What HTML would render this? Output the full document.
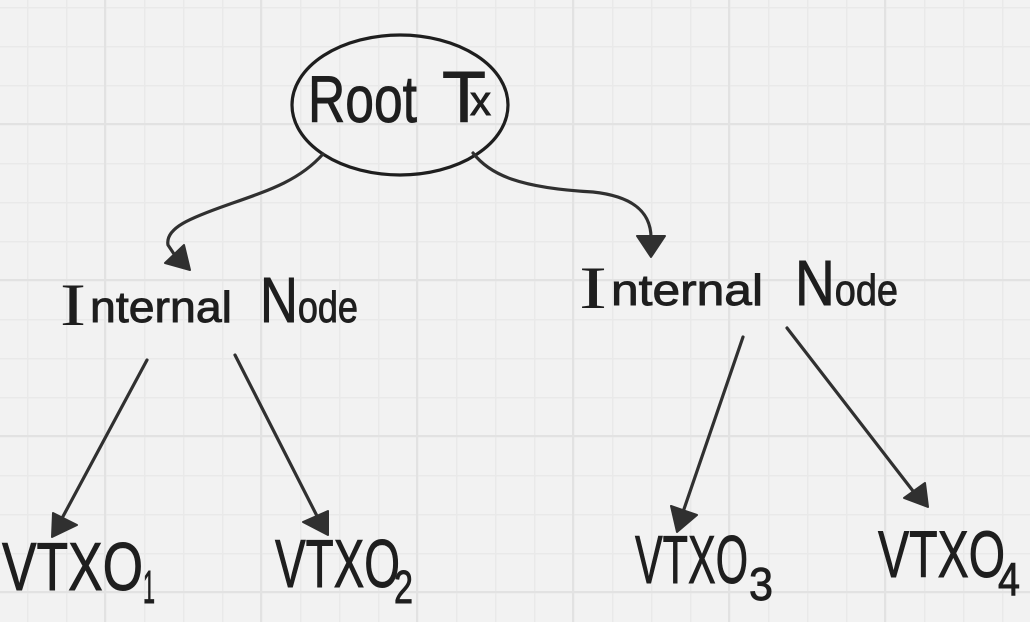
<!DOCTYPE html>
<html>
<head>
<meta charset="utf-8">
<style>
html,body{margin:0;padding:0;background:#f2f2f2;}
body{width:1030px;height:622px;overflow:hidden;}
svg{display:block;}
text{font-family:"Liberation Sans", sans-serif;fill:#1e1e1e;stroke:#1e1e1e;stroke-width:0.9;}
.serif{font-family:"Liberation Serif", serif;stroke-width:0;}
</style>
</head>
<body>
<svg width="1030" height="622" viewBox="0 0 1030 622" xmlns="http://www.w3.org/2000/svg">
<defs>
<pattern id="minor" x="27" y="7" width="39" height="39" patternUnits="userSpaceOnUse">
<rect x="0" y="0" width="1.5" height="39" fill="#e9e9e9"/>
<rect x="0" y="0" width="39" height="1.5" fill="#e9e9e9"/>
</pattern>
<pattern id="major" x="104" y="123" width="156" height="156" patternUnits="userSpaceOnUse">
<rect x="0" y="0" width="2" height="156" fill="#e2e2e2"/>
<rect x="0" y="0" width="156" height="2" fill="#e2e2e2"/>
</pattern>
</defs>
<rect width="1030" height="622" fill="#f2f2f2"/>
<rect width="1030" height="622" fill="url(#minor)"/>
<rect width="1030" height="622" fill="url(#major)"/>

<!-- Root ellipse -->
<ellipse cx="400" cy="105" rx="108" ry="70" fill="none" stroke="#1e1e1e" stroke-width="3.2"/>
<text x="308" y="122" font-size="66" textLength="109" lengthAdjust="spacingAndGlyphs">Root</text>
<text x="442" y="122" font-size="72" textLength="44" lengthAdjust="spacingAndGlyphs">T</text>
<text x="470" y="115" font-size="42" textLength="21" lengthAdjust="spacingAndGlyphs">x</text>

<!-- Connectors -->
<g fill="none" stroke="#303030" stroke-width="3.2" stroke-linecap="round" stroke-linejoin="round">
<path d="M323,154 C300,180 270,190 230,204 C190,218 165,228 168,245 L174,254"/>
<path d="M473,153 C490,175 520,188 593,192 C630,196 652,210 651,240"/>
<path d="M147,360 L60,522"/>
<path d="M235,355 L318,518"/>
<path d="M743,337 L683,512"/>
<path d="M787,328 L913,491"/>
</g>
<g fill="#303030" stroke="#303030" stroke-width="2" stroke-linejoin="round">
<polygon points="190,270 165,263 184,245"/>
<polygon points="651,257 637,236 665,236"/>
<polygon points="52,537 53,513 77,525"/>
<polygon points="328,535 303,522 328,511"/>
<polygon points="677,532 671,506 697,515"/>
<polygon points="928,507 904,498 925,483"/>
</g>

<!-- Internal nodes -->
<text x="60" y="325" font-size="60" class="serif" textLength="26" lengthAdjust="spacingAndGlyphs">I</text>
<text x="90" y="322" font-size="44" textLength="142" lengthAdjust="spacingAndGlyphs">nternal</text>
<text x="260" y="322" font-size="44" textLength="98" lengthAdjust="spacingAndGlyphs"><tspan font-size="64">N</tspan>ode</text>

<text x="579" y="308" font-size="60" class="serif" textLength="28" lengthAdjust="spacingAndGlyphs">I</text>
<text x="611" y="305" font-size="44" textLength="152" lengthAdjust="spacingAndGlyphs">nternal</text>
<text x="795" y="305" font-size="44" textLength="103" lengthAdjust="spacingAndGlyphs"><tspan font-size="64">N</tspan>ode</text>

<!-- VTXOs -->
<text x="2" y="590" font-size="68" textLength="141" lengthAdjust="spacingAndGlyphs">VTXO</text>
<text x="143" y="603" font-size="46" textLength="12" lengthAdjust="spacingAndGlyphs">1</text>

<text x="275" y="587" font-size="68" textLength="125" lengthAdjust="spacingAndGlyphs">VTXO</text>
<text x="394" y="603" font-size="46" textLength="19" lengthAdjust="spacingAndGlyphs">2</text>

<text x="635" y="583" font-size="68" textLength="113" lengthAdjust="spacingAndGlyphs">VTXO</text>
<text x="749" y="600" font-size="46" textLength="24" lengthAdjust="spacingAndGlyphs">3</text>

<text x="878" y="577" font-size="66" textLength="127" lengthAdjust="spacingAndGlyphs">VTXO</text>
<text x="998" y="595" font-size="46" textLength="22" lengthAdjust="spacingAndGlyphs">4</text>
</svg>
</body>
</html>
